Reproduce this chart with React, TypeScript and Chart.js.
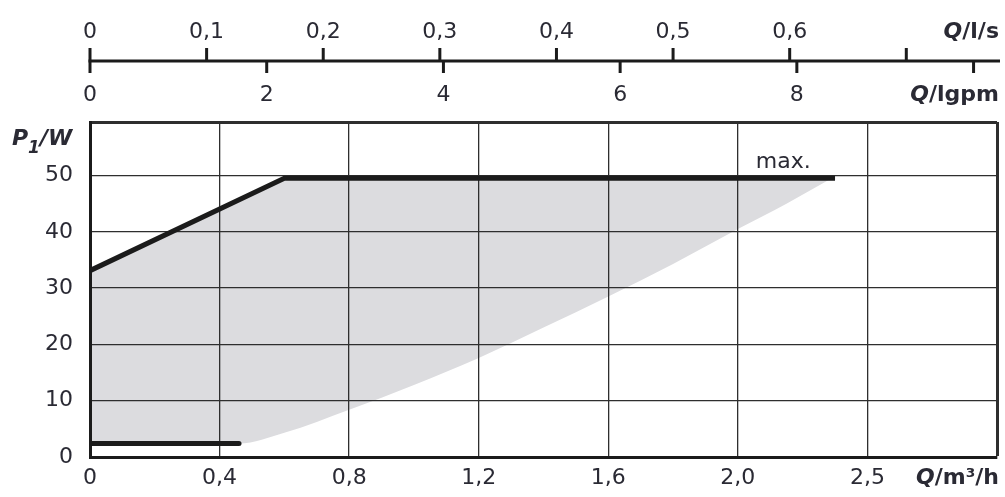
import React, { useEffect, useRef } from "react";
import { Chart, registerables } from "chart.js";

Chart.register(...registerables);

// ---- data (Q in m³/h, P1 in W) ----
const maxCurveQ = [0, 0.6, 2.3];
const maxCurveP = [33.1, 49.5, 49.5];
const minCurveQ = [0, 0.46];
const minCurveP = [2.4, 2.4];
const boundaryQ = [0, 0.46, 0.6, 0.8, 1.0, 1.2, 1.4, 1.6, 1.8, 2.0, 2.15, 2.29];
const boundaryP = [2.4, 2.4, 4.3, 8.4, 12.8, 17.6, 23.0, 28.5, 34.3, 40.5, 45.0, 49.5];

// ---- axes ----
const Q_MAX = 2.8;
const P_MAX = 59.5;
const xTickValues = [0, 0.4, 0.8, 1.2, 1.6, 2.0, 2.4, 2.8];
const xTickLabels = ["0", "0,4", "0,8", "1,2", "1,6", "2,0", "2,5", ""];
const yTickValues = [0, 10, 20, 30, 40, 50, P_MAX];
const yTickLabels = ["0", "10", "20", "30", "40", "50", ""];
const lsTickValues = [0, 0.1, 0.2, 0.3, 0.4, 0.5, 0.6, 0.7];
const lsTickLabels = ["0", "0,1", "0,2", "0,3", "0,4", "0,5", "0,6", ""];
const gpmTickValues = [0, 2, 4, 6, 8, 10];
const gpmTickLabels = ["0", "2", "4", "6", "8", ""];
const M3H_PER_LS = 3.6;
const M3H_PER_IGPM = 0.272765;
const maxLabel = { text: "max.", q: 2.14, p: 52.75 };

// ---- style ----
const FONT = '"DejaVu Sans", sans-serif';
const TEXT = "#2a2a34";
const LINE = "#1b1b1b";
const GRID = "#2e2e2e";
const FILL = "#dcdcdf";

type Part = { text: string; font: string; dy?: number };

function drawParts(ctx: CanvasRenderingContext2D, parts: Part[], x0: number, baseline: number, alignRight: boolean) {
  let total = 0;
  parts.forEach((p) => {
    ctx.font = p.font;
    total += ctx.measureText(p.text).width;
  });
  let x = alignRight ? x0 - total : x0;
  parts.forEach((p) => {
    ctx.font = p.font;
    ctx.fillText(p.text, x, baseline + (p.dy || 0));
    x += ctx.measureText(p.text).width;
  });
}

const overlayPlugin = {
  id: "overlay",
  afterDraw(chart: any) {
    const ctx: CanvasRenderingContext2D = chart.ctx;
    const xs = chart.scales.x;
    const ys = chart.scales.y;
    ctx.save();
    const rulerY = 61;
    ctx.strokeStyle = LINE;
    ctx.lineWidth = 3;
    ctx.beginPath();
    ctx.moveTo(xs.getPixelForValue(0) - 1.5, rulerY);
    ctx.lineTo(1000, rulerY);
    ctx.stroke();

    ctx.fillStyle = TEXT;
    ctx.textAlign = "center";
    ctx.textBaseline = "alphabetic";
    ctx.font = `22px ${FONT}`;
    lsTickValues.forEach((v, i) => {
      const px = xs.getPixelForValue(v * M3H_PER_LS);
      ctx.beginPath();
      ctx.moveTo(px, rulerY - 13);
      ctx.lineTo(px, rulerY);
      ctx.stroke();
      if (lsTickLabels[i]) ctx.fillText(lsTickLabels[i], px, 37.5);
    });
    gpmTickValues.forEach((v, i) => {
      const px = xs.getPixelForValue(v * M3H_PER_IGPM);
      ctx.beginPath();
      ctx.moveTo(px, rulerY);
      ctx.lineTo(px, rulerY + 12);
      ctx.stroke();
      if (gpmTickLabels[i]) ctx.fillText(gpmTickLabels[i], px, 100.5);
    });

    ctx.textAlign = "left";
    const bi = `italic bold 22px ${FONT}`;
    const b = `bold 22px ${FONT}`;
    drawParts(ctx, [{ text: "Q", font: bi }, { text: "/l/s", font: b }], 999, 37.5, true);
    drawParts(ctx, [{ text: "Q", font: bi }, { text: "/lgpm", font: b }], 999, 100.5, true);
    drawParts(ctx, [{ text: "Q", font: bi }, { text: "/m³/h", font: b }], 999, 484, true);
    drawParts(
      ctx,
      [
        { text: "P", font: bi },
        { text: "1", font: `italic bold 17px ${FONT}`, dy: 8 },
        { text: "/W", font: bi },
      ],
      12,
      145,
      false
    );

    ctx.font = `22px ${FONT}`;
    ctx.textAlign = "center";
    ctx.fillText(maxLabel.text, xs.getPixelForValue(maxLabel.q), ys.getPixelForValue(maxLabel.p) + 8);
    ctx.restore();
  },
};

export default function App() {
  const ref = useRef<HTMLCanvasElement | null>(null);
  useEffect(() => {
    if (!ref.current) return;
    const toPts = (xs: number[], ys: number[]) => xs.map((x, i) => ({ x, y: ys[i] }));
    const chart = new Chart(ref.current, {
      type: "line",
      data: {
        datasets: [
          {
            label: "max",
            data: toPts(maxCurveQ, maxCurveP),
            borderColor: LINE,
            borderWidth: 5,
            pointRadius: 0,
            fill: "+1",
            backgroundColor: FILL,
          },
          {
            label: "boundary",
            data: toPts(boundaryQ, boundaryP),
            borderColor: "rgba(0,0,0,0)",
            borderWidth: 0,
            pointRadius: 0,
            cubicInterpolationMode: "monotone",
            fill: false,
          },
          {
            label: "min",
            data: toPts(minCurveQ, minCurveP),
            borderColor: LINE,
            borderWidth: 5,
            borderCapStyle: "round",
            pointRadius: 0,
            fill: false,
          },
        ],
      },
      options: {
        responsive: false,
        animation: false,
        events: [],
        layout: { padding: { top: 122, right: 8, left: 0, bottom: 0 } },
        plugins: {
          legend: { display: false },
          tooltip: { enabled: false },
          filler: { drawTime: "beforeDraw" },
        },
        scales: {
          x: {
            type: "linear",
            min: 0,
            max: Q_MAX,
            afterBuildTicks: (s: any) => {
              s.ticks = xTickValues.map((v) => ({ value: v }));
            },
            afterFit: (s: any) => {
              s.height = 40;
            },
            ticks: {
              callback: (_v: any, i: number) => xTickLabels[i],
              autoSkip: false,
              maxRotation: 0,
              padding: 8,
              color: TEXT,
              font: { family: FONT, size: 22 },
            },
            grid: {
              color: GRID,
              lineWidth: (c: any) => (c.tick && c.tick.value === Q_MAX ? 3 : 1.3),
              drawTicks: false,
            },
            border: { display: true, width: 3, color: LINE },
          },
          y: {
            type: "linear",
            min: 0,
            max: P_MAX,
            afterBuildTicks: (s: any) => {
              s.ticks = yTickValues.map((v) => ({ value: v }));
            },
            afterFit: (s: any) => {
              s.width = 90;
            },
            ticks: {
              callback: (_v: any, i: number) => yTickLabels[i],
              autoSkip: false,
              padding: 17,
              color: TEXT,
              font: { family: FONT, size: 22 },
            },
            grid: {
              color: GRID,
              lineWidth: (c: any) => (c.tick && c.tick.value === P_MAX ? 3 : 1.3),
              drawTicks: false,
            },
            border: { display: true, width: 3, color: LINE },
          },
        },
      },
      plugins: [overlayPlugin],
    } as any);
    return () => chart.destroy();
  }, []);
  return (
    <div style={{ position: "absolute", left: 0, top: 0, width: 1005, height: 497, background: "#fff" }}>
      <canvas ref={ref} width={1005} height={497} />
    </div>
  );
}
